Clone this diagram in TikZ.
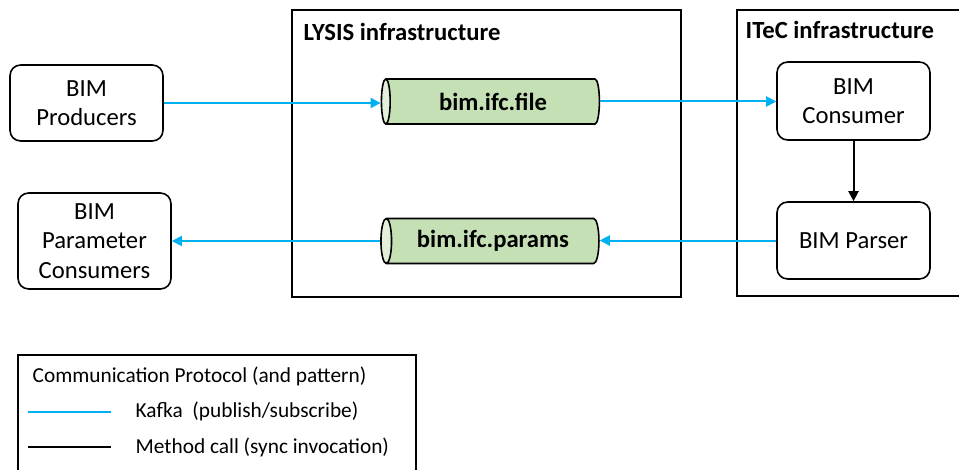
\documentclass[tikz,border=0pt]{standalone}
\usepackage{fontspec}
\setmainfont{Carlito}
\usepackage{xcolor}
\usepackage{tikz}
\usetikzlibrary{shapes.geometric, arrows.meta, positioning}

\definecolor{kafkablue}{HTML}{00B0F0}
\definecolor{topicgreen}{HTML}{C5E0B4}
\definecolor{topicend}{HTML}{E2EFD9}

\begin{document}
\begin{tikzpicture}[x=0.75pt,y=-0.75pt,>={Triangle[length=7.5pt,width=7.5pt]},
    comp/.style={draw,line width=1.2pt,rounded corners=8pt,align=center,
        font=\fontsize{18.5}{22}\selectfont,inner sep=0pt},
    topic/.style={cylinder,shape border rotate=180,aspect=0.5,draw,line width=1.2pt,
        cylinder uses custom fill,cylinder body fill=topicgreen,cylinder end fill=topicend,
        minimum width=33.75pt,minimum height=163.5pt,inner sep=0pt,
        font=\bfseries\fontsize{18.5}{22}\selectfont},
    infra/.style={draw,line width=1.3pt},
    kafka/.style={->,kafkablue,line width=1.5pt},
    call/.style={->,black,line width=1.5pt}]
        % tikz code goes here
        \useasboundingbox (0,0) rectangle (959,470);
        \draw[infra] (292,10) rectangle (681,297);
        \draw[infra] (737,10) rectangle (965,296);
        \node[anchor=west,font=\bfseries\fontsize{18.5}{22}\selectfont](lysis) at (299,32) {LYSIS infrastructure};
        \node[anchor=west,font=\bfseries\fontsize{18.5}{22}\selectfont](itec) at (741,30) {ITeC infrastructure};

        \node[comp,minimum width=114.75pt,minimum height=57pt](producers) at (86.5,103) {BIM\\Producers};
        \node[comp,minimum width=114.75pt,minimum height=72pt](paramcons) at (94.5,241) {BIM\\Parameter\\Consumers};
        \node[comp,minimum width=114.75pt,minimum height=58.5pt](consumer) at (853.5,101) {BIM\\Consumer};
        \node[comp,minimum width=114.75pt,minimum height=57.75pt](parser) at (853.5,240.5) {BIM Parser};
        \node[topic](file) at (493,101.5) {bim.ifc.file};
        \node[topic](params) at (493,241) {bim.ifc.params};

        \draw[kafka] (producers.east) -- (file.west |- producers.east);
        \draw[kafka] (file.east) -- (consumer.west |- file.east);
        \draw[kafka] (parser.west) -- (params.east |- parser.west);
        \draw[kafka] (params.west) -- (paramcons.east |- params.west);
        \draw[call] (consumer.south) -- (parser.north);

        % legend
        \draw[infra,line width=0.8pt] (18,355) rectangle (416,475);
        \node[anchor=west,font=\fontsize{16}{20}\selectfont](legtitle) at (28,376) {Communication Protocol (and pattern)};
        \coordinate (kafkaA) at (28,412);
        \coordinate (kafkaB) at (111,412);
        \coordinate (callA) at (28,447);
        \coordinate (callB) at (111,447);
        \draw[kafkablue,line width=1.5pt] (kafkaA) -- (kafkaB);
        \draw[black,line width=1.5pt] (callA) -- (callB);
        \node[anchor=west,font=\fontsize{16}{20}\selectfont](kafkatext) at (131,411) {Kafka\ \ (publish/subscribe)};
        \node[anchor=west,font=\fontsize{16}{20}\selectfont](calltext) at (131,447) {Method call (sync invocation)};
\end{tikzpicture}
\end{document}
